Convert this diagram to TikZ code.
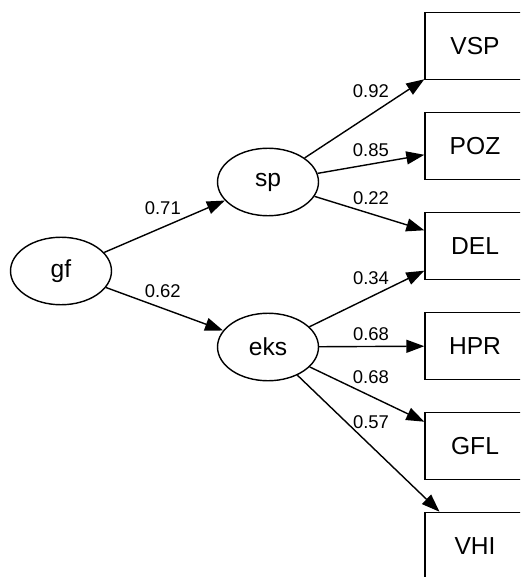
\documentclass[tikz,border=0pt]{standalone}
\usepackage{fontspec}
\setmainfont{Liberation Sans}
\usepackage{tikz}
\usetikzlibrary{arrows.meta,shapes.geometric}

\begin{document}
\begin{tikzpicture}[x=0.02cm,y=-0.02cm,->,>={Triangle[length=3.6mm,width=2.6mm]},
thick,node distance=2cm]
\tikzstyle{lat}=[ellipse,draw=black,fill=white,text=black,inner sep=0pt,
minimum width=2.02cm,minimum height=1.35cm,font=\fontsize{14}{16}\selectfont]
\tikzstyle{obs}=[rectangle,draw=black,fill=white,text=black,inner sep=0pt,
minimum width=2cm,minimum height=1.34cm,font=\fontsize{14}{16}\selectfont]
\tikzstyle{lbl}=[font=\fontsize{10.5}{12}\selectfont,inner sep=1pt]
\useasboundingbox (0,0) rectangle (520,577);
\clip (0,0) rectangle (520,577);
% latent factors
\node[lat] (gf) at (61,271) {gf};
\node[lat] (sp) at (268,182) {sp};
\node[lat] (eks) at (268,347) {eks};
% indicators
\node[obs] (VSP) at (475,46) {VSP};
\node[obs] (POZ) [below of=VSP] {POZ};
\node[obs] (DEL) [below of=POZ] {DEL};
\node[obs] (HPR) [below of=DEL] {HPR};
\node[obs] (GFL) [below of=HPR] {GFL};
\node[obs] (VHI) [below of=GFL] {VHI};
\path (gf) edge node[lbl,pos=0.486,yshift=0.38cm]{0.71} (sp)
           edge node[lbl,pos=0.485,yshift=0.35cm]{0.62} (eks)
      (sp) edge node[lbl,pos=0.554,yshift=0.46cm]{0.92} (VSP)
           edge node[lbl,pos=0.50,yshift=0.28cm]{0.85} (POZ)
           edge node[lbl,pos=0.514,yshift=0.32cm]{0.22} (DEL)
      (eks) edge node[lbl,pos=0.536,yshift=0.38cm]{0.34} (DEL)
           edge node[lbl,pos=0.493,yshift=0.24cm]{0.68} (HPR)
           edge node[lbl,pos=0.534,yshift=0.38cm]{0.68} (GFL)
           edge node[lbl,pos=0.518,yshift=0.48cm]{0.57} (VHI);
\end{tikzpicture}
\end{document}
